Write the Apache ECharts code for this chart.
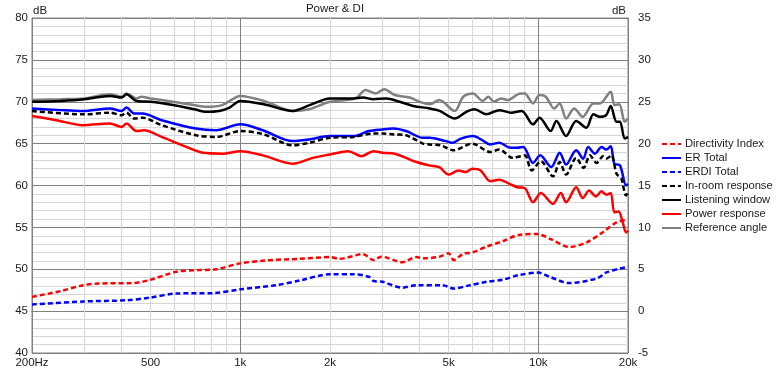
<!DOCTYPE html>
<html><head><meta charset="utf-8">
<script src="https://cdn.jsdelivr.net/npm/echarts@6/dist/echarts.min.js"></script>
<style>html,body{margin:0;padding:0;background:#fff}#c{width:780px;height:371px}</style>
</head><body><div id="c"></div>
<script>
// ---- data ----
const xTickValues = [200, 500, 1000, 2000, 5000, 10000, 20000];
const xTickLabels = ['200Hz', '500', '1k', '2k', '5k', '10k', '20k'];
const minorFreqs = [300, 400, 500, 600, 700, 800, 900, 2000, 3000, 4000, 5000, 6000, 7000, 8000, 9000];
const majorFreqs = [1000, 10000];

const diFreq = [200, 250, 297, 336, 437, 495, 610, 730, 830, 1000, 1220, 1580, 2000, 2150, 2580, 2800, 2970, 3500, 3900, 4100, 4660, 5000, 5200, 5600, 6000, 6700, 7600, 8600, 9900, 11000, 12700, 14600, 16500, 18300, 20000];
const diVal  = [1.7, 2.4, 3.1, 3.3, 3.35, 3.7, 4.7, 4.9, 5.0, 5.7, 6.05, 6.25, 6.45, 6.25, 6.8, 6.1, 6.5, 5.85, 6.45, 6.3, 6.5, 6.9, 6.1, 6.85, 7.0, 7.7, 8.35, 9.1, 9.2, 8.6, 7.65, 8.25, 9.45, 10.6, 10.9];

const erFreq = [200, 250, 296, 365, 400, 415, 440, 470, 545, 710, 830, 1000, 1190, 1500, 1700, 2000, 2400, 2700, 3000, 3260, 3600, 4100, 4320, 4900, 5160, 5500, 6040, 6500, 6870, 7400, 8050, 8500, 8900, 9600, 10150, 11050, 11800, 12400, 13400, 14150, 14700, 15500, 16300, 16900, 17500, 18000, 18800, 19700, 20000];
const erVal  = [69.2, 69.0, 68.9, 69.2, 68.9, 69.3, 68.6, 68.6, 67.8, 66.8, 66.6, 67.3, 66.6, 65.3, 65.5, 65.9, 65.9, 66.5, 66.7, 66.8, 66.5, 65.7, 65.7, 65.3, 65.1, 65.6, 65.9, 65.4, 64.9, 65.1, 64.5, 64.5, 64.6, 62.7, 63.6, 62.2, 63.9, 62.5, 64.2, 63.2, 64.6, 63.8, 64.6, 64.3, 64.7, 62.6, 62.4, 60.0, 60.2];

const erdiFreq = [200, 297, 415, 495, 610, 810, 1000, 1320, 1580, 2000, 2400, 2700, 2800, 3000, 3500, 3900, 4770, 5200, 5900, 6700, 7600, 8600, 10000, 11000, 12700, 15700, 17000, 20000];
const erdiVal  = [0.8, 1.15, 1.3, 1.6, 2.1, 2.15, 2.6, 3.1, 3.65, 4.4, 4.4, 4.1, 3.6, 3.5, 2.8, 3.1, 3.1, 2.7, 3.1, 3.5, 3.75, 4.3, 4.6, 4.05, 3.35, 3.9, 4.65, 5.3];

const irFreq = [200, 300, 365, 400, 415, 440, 470, 545, 710, 830, 1000, 1200, 1500, 1700, 2000, 2400, 2800, 3000, 3300, 3600, 4100, 4300, 4700, 5200, 6000, 6900, 7400, 8200, 9000, 9500, 10200, 11200, 11800, 12400, 13400, 14200, 14900, 15700, 16500, 16900, 17600, 18300, 19000, 19700, 20000];
const irVal  = [68.9, 68.5, 68.7, 68.4, 68.7, 68.0, 68.1, 67.2, 66.0, 65.8, 66.5, 66.1, 64.8, 65.1, 65.7, 65.8, 66.2, 66.2, 66.1, 66.0, 65.0, 64.9, 64.8, 64.2, 65.0, 64.0, 64.3, 63.3, 63.6, 61.8, 62.9, 61.1, 62.8, 61.3, 63.3, 62.1, 63.6, 62.7, 63.5, 63.2, 63.6, 61.4, 60.8, 58.8, 59.2];

const lwFreq = [200, 250, 300, 365, 400, 415, 448, 500, 595, 700, 770, 850, 920, 1000, 1200, 1500, 1710, 2000, 2390, 2580, 2790, 3090, 3430, 3800, 4320, 4670, 5240, 5740, 6100, 6700, 7400, 8100, 8800, 9600, 10100, 11000, 11500, 12400, 13400, 14500, 15300, 16100, 16900, 17500, 18300, 18800, 19500, 20000];
const lwVal  = [70.0, 70.1, 70.3, 70.7, 70.5, 70.9, 70.1, 70.0, 69.6, 69.1, 68.8, 68.9, 69.3, 70.1, 69.7, 68.9, 69.6, 70.4, 70.4, 70.5, 70.3, 70.4, 70.0, 69.5, 69.2, 68.9, 68.0, 68.8, 69.1, 68.5, 69.0, 68.7, 68.9, 67.3, 68.1, 66.5, 67.7, 65.9, 67.7, 66.9, 68.5, 68.2, 68.4, 69.5, 67.6, 67.6, 65.6, 65.8];

const prFreq = [200, 241, 296, 365, 400, 415, 448, 475, 545, 640, 750, 870, 1000, 1190, 1500, 1750, 2000, 2300, 2550, 2800, 3000, 3300, 3900, 4300, 4650, 5000, 5400, 5700, 6000, 6400, 6900, 7400, 8000, 8500, 9000, 9600, 10200, 11200, 11900, 12400, 13400, 14100, 14800, 15600, 16300, 16900, 17500, 18000, 18600, 19200, 19700, 20000];
const prVal  = [68.3, 67.8, 67.2, 67.4, 67.0, 67.4, 66.5, 66.6, 65.8, 64.8, 63.9, 63.8, 64.1, 63.6, 62.6, 63.3, 63.7, 64.1, 63.5, 64.1, 63.9, 63.8, 62.8, 62.4, 62.2, 61.3, 61.8, 61.6, 62.0, 61.8, 60.5, 60.7, 60.2, 59.8, 59.7, 58.0, 59.1, 57.8, 59.1, 58.0, 59.8, 58.5, 59.4, 58.7, 59.3, 58.9, 59.1, 56.8, 56.9, 55.6, 54.4, 54.6];

const raFreq = [200, 250, 300, 365, 400, 415, 448, 466, 500, 595, 700, 770, 870, 1000, 1200, 1500, 1700, 2000, 2440, 2630, 2850, 3040, 3300, 3700, 4000, 4320, 4650, 5240, 5600, 6040, 6500, 6800, 7100, 7500, 7900, 8700, 9000, 9600, 10100, 10600, 11300, 11800, 12400, 13200, 14100, 15300, 16100, 17500, 18000, 18700, 19500, 20000];
const raVal  = [70.2, 70.3, 70.4, 70.9, 70.6, 71.0, 70.4, 70.6, 70.4, 70.0, 69.6, 69.4, 69.6, 70.7, 70.1, 68.9, 69.1, 70.0, 70.4, 71.4, 71.0, 71.5, 70.8, 70.5, 70.0, 69.7, 70.2, 68.9, 70.6, 71.0, 70.1, 70.6, 70.0, 70.4, 70.2, 71.0, 71.0, 69.8, 70.8, 70.6, 69.2, 69.8, 68.0, 69.2, 68.2, 69.8, 69.8, 71.2, 69.6, 69.7, 67.6, 68.0];

// ---- chart ----
const FONT = 'Liberation Sans';
const TXT = '#1a1a1a';
const zip = (f, v) => f.map((x, i) => [x, v[i]]);

function lineSeries(name, f, v, color, dashed, yIdx, z) {
  return {
    name, type: 'line', xAxisIndex: 0, yAxisIndex: yIdx,
    data: zip(f, v), symbol: 'none', smooth: 0.3, z: z,
    lineStyle: { color, width: 2.5, type: dashed ? [5, 3] : 'solid' },
    itemStyle: { color }, emphasis: { disabled: true }, animation: false
  };
}

const gridSeries = {
  type: 'line', data: [], silent: true, z: 1, animation: false,
  markLine: {
    silent: true, symbol: 'none', animation: false, label: { show: false },
    data: minorFreqs.map(f => ({ xAxis: f, lineStyle: { color: '#d7d7d7', width: 1, type: 'solid' } }))
      .concat(majorFreqs.map(f => ({ xAxis: f, lineStyle: { color: '#808080', width: 1, type: 'solid' } })))
  }
};

const chart = echarts.init(document.getElementById('c'), null, { renderer: 'canvas' });
chart.setOption({
  backgroundColor: '#ffffff',
  animation: false,
  textStyle: { fontFamily: FONT },
  title: {
    text: 'Power & DI', left: 330, textAlign: 'center', top: -2,
    textStyle: { fontFamily: FONT, fontSize: 11.5, fontWeight: 'normal', color: TXT }
  },
  grid: { left: 32, right: 152, top: 18, bottom: 18, show: true, borderColor: '#808080', borderWidth: 1, backgroundColor: '#fff' },
  legend: {
    orient: 'vertical', left: 656, top: 132, itemGap: 0, itemWidth: 19, itemHeight: 8,
    itemStyle: { color: 'transparent', borderColor: 'transparent', borderWidth: 0 },
    textStyle: { fontFamily: FONT, fontSize: 11.2, color: TXT, lineHeight: 14, padding: [0, 0, 0, -1] },
    data: ['Directivity Index', 'ER Total', 'ERDI Total', 'In-room response', 'Listening window', 'Power response', 'Reference angle'],
    selectedMode: false
  },
  xAxis: {
    type: 'log', logBase: 10, min: 200, max: 20000,
    axisLine: { show: true, lineStyle: { color: '#808080' } },
    axisTick: { show: false },
    splitLine: { show: false },
    minorSplitLine: { show: false },
    axisLabel: {
      customValues: xTickValues, margin: 4, fontFamily: FONT, fontSize: 11.5, color: TXT,
      formatter: v => { const i = xTickValues.findIndex(t => Math.abs(t - v) / t < 1e-6); return i >= 0 ? xTickLabels[i] : ''; }
    }
  },
  yAxis: [
    {
      type: 'value', min: 40, max: 80, interval: 5, position: 'left',
      name: 'dB', nameLocation: 'end', nameGap: 7, nameMoveOverlap: false,
      nameTextStyle: { align: 'left', verticalAlign: 'middle', fontFamily: FONT, fontSize: 11.5, color: TXT, padding: [0, 0, 0, 1] },
      axisLine: { show: true, lineStyle: { color: '#808080' } },
      axisTick: { show: false },
      axisLabel: { margin: 4, fontFamily: FONT, fontSize: 11.5, color: TXT },
      splitLine: { show: true, lineStyle: { color: '#808080', width: 1 } },
      minorTick: { show: false, splitNumber: 5 },
      minorSplitLine: { show: true, lineStyle: { color: '#d7d7d7', width: 1 } }
    },
    {
      type: 'value', min: -5, max: 35, interval: 5, position: 'right',
      name: 'dB', nameLocation: 'end', nameGap: 7, nameMoveOverlap: false,
      nameTextStyle: { align: 'right', verticalAlign: 'middle', fontFamily: FONT, fontSize: 11.5, color: TXT, padding: [0, 2, 0, 0] },
      axisLine: { show: true, lineStyle: { color: '#808080' } },
      axisTick: { show: false },
      axisLabel: { margin: 10, fontFamily: FONT, fontSize: 11.5, color: TXT },
      splitLine: { show: false }
    }
  ],
  series: [
    gridSeries,
    lineSeries('Directivity Index', diFreq, diVal, '#ff0000', true, 1, 5),
    lineSeries('ER Total', erFreq, erVal, '#0000ff', false, 0, 5),
    lineSeries('ERDI Total', erdiFreq, erdiVal, '#0000ff', true, 1, 5),
    lineSeries('In-room response', irFreq, irVal, '#000000', true, 0, 6),
    lineSeries('Power response', prFreq, prVal, '#ff0000', false, 0, 5),
    lineSeries('Reference angle', raFreq, raVal, '#808080', false, 0, 5),
    lineSeries('Listening window', lwFreq, lwVal, '#000000', false, 0, 6)
  ]
});
</script></body></html>
